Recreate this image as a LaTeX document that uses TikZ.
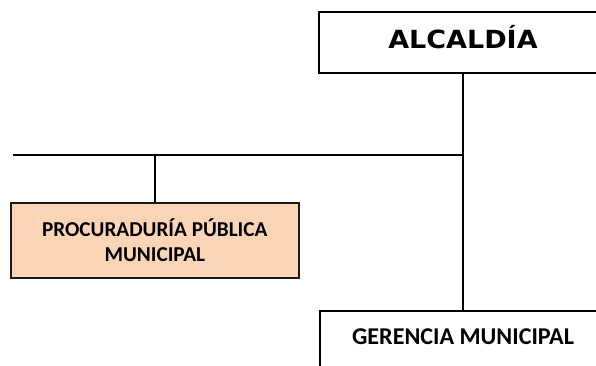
\documentclass[tikz,border=0pt]{standalone}
\usepackage{fontspec}
\newfontfamily\verdfont[FakeStretch=1.08]{DejaVu Sans}
\newfontfamily\calfont{Carlito}
\definecolor{peach}{HTML}{FBD5B5}
\definecolor{edge}{HTML}{1A1A1A}
\begin{document}
\begin{tikzpicture}[x=1pt,y=-1pt,
  boxstyle/.style={draw=black, line width=2pt, inner sep=0pt, fill=white},
  linkstyle/.style={draw=black, line width=1.5pt}]
\useasboundingbox (0,0) rectangle (596,365);
\node[boxstyle, anchor=north, minimum width=288pt, text height=36pt, text depth=25pt,
  font=\verdfont\bfseries\fontsize{25}{30}\selectfont] (alc) at (463,11) {ALCALDÍA};
\node[boxstyle, anchor=north, minimum width=286pt, text height=33pt, text depth=47pt,
  font=\calfont\bfseries\fontsize{24.1}{28}\selectfont] (ger) at (463,310) {GERENCIA MUNICIPAL};
\node[boxstyle, draw=edge, line width=1.6pt, fill=peach, anchor=north west, minimum width=288pt, minimum height=75pt, align=center,
  font=\calfont\bfseries\fontsize{21.2}{25}\selectfont] (proc) at (10,202) {PROCURADURÍA PÚBLICA\\MUNICIPAL};
\coordinate (j) at (463,155);
\coordinate (l) at (13,155);
\draw[linkstyle] (alc.south) -- (ger.north);
\draw[linkstyle] (l) -- (j);
\draw[linkstyle] (proc.north |- l) -- (proc.north);
\end{tikzpicture}
\end{document}
